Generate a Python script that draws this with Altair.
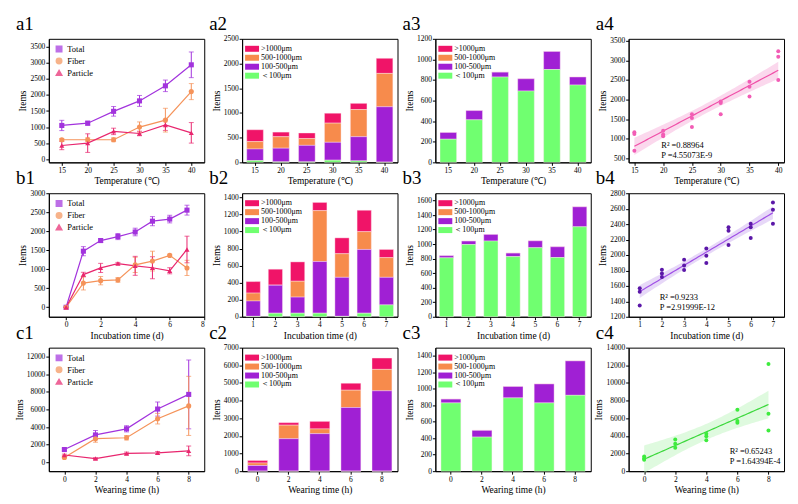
import altair as alt
import numpy as np
import pandas as pd

FONT = "Liberation Serif"

# ---------------- data ----------------
temperature = [15, 20, 25, 30, 35, 40]
incubation_days = [0, 1, 2, 3, 4, 5, 6, 7]
bar_days = [1, 2, 3, 4, 5, 6, 7]
wearing_hours = [0, 2, 4, 6, 8]

series_names = ["Total", "Fiber", "Particle"]
size_names = [">1000μm", "500-1000μm", "100-500μm", "＜100μm"]

# a1 (mean, error)
a1_total = [1050, 1120, 1490, 1815, 2285, 2940]
a1_total_err = [160, 60, 150, 170, 180, 400]
a1_fiber = [605, 605, 605, 1000, 1215, 2105]
a1_fiber_err = [40, 60, 60, 160, 370, 250]
a1_particle = [425, 500, 865, 800, 1065, 820]
a1_particle_err = [130, 290, 100, 70, 170, 320]

# b1
b1_total = [0, 1475, 1755, 1860, 1980, 2265, 2320, 2555]
b1_total_err = [0, 120, 50, 80, 100, 120, 100, 130]
b1_fiber = [0, 635, 700, 720, 1115, 1215, 1365, 1035]
b1_fiber_err = [0, 180, 110, 60, 200, 260, 30, 200]
b1_particle = [0, 860, 1035, 1150, 1090, 1040, 960, 1520]
b1_particle_err = [0, 60, 120, 30, 250, 290, 80, 350]

# c1
c1_total = [1450, 3110, 3800, 6040, 7700]
c1_total_err = [150, 500, 350, 800, 3900]
c1_fiber = [560, 2680, 2790, 4950, 6400]
c1_fiber_err = [150, 400, 250, 600, 3350]
c1_particle = [830, 430, 1010, 1080, 1300]
c1_particle_err = [100, 100, 150, 150, 550]

# a2 fibers by length
a2_lt100 = [35, 10, 10, 44, 30, 5]
a2_100_500 = [235, 277, 334, 362, 489, 1120]
a2_500_1000 = [150, 232, 137, 388, 550, 675]
a2_gt1000 = [240, 93, 113, 200, 125, 306]
# a3 particles by size
a3_lt100 = [225, 413, 829, 693, 902, 751]
a3_100_500 = [65, 90, 47, 119, 175, 78]
a3_500_1000 = [0, 0, 0, 0, 0, 0]
a3_gt1000 = [0, 0, 0, 0, 0, 0]
# b2
b2_lt100 = [5, 42, 42, 42, 5, 42, 139]
b2_100_500 = [180, 328, 189, 606, 458, 748, 324]
b2_500_1000 = [93, 0, 186, 598, 277, 209, 231]
b2_gt1000 = [135, 189, 227, 96, 186, 251, 96]
# b3
b3_lt100 = [811, 994, 1042, 828, 950, 815, 1238]
b3_100_500 = [30, 48, 91, 48, 95, 148, 275]
b3_500_1000 = [0, 0, 0, 0, 0, 0, 0]
b3_gt1000 = [0, 0, 0, 0, 0, 0, 0]
# c2
c2_lt100 = [0, 0, 0, 0, 0]
c2_100_500 = [321, 1839, 2125, 3607, 4554]
c2_500_1000 = [143, 768, 268, 982, 1214]
c2_gt1000 = [143, 143, 428, 393, 643]
# c3
c3_lt100 = [829, 414, 890, 829, 921]
c3_100_500 = [46, 81, 138, 230, 418]
c3_500_1000 = [0, 0, 0, 0, 0]
c3_gt1000 = [0, 0, 0, 0, 0]

# regression scatter data
a4_x = [15, 15, 15, 20, 20, 20, 25, 25, 25, 30, 30, 30, 35, 35, 35, 40, 40, 40]
a4_y = [1165, 1124, 695, 1205, 1108, 1068, 1627, 1530, 1303, 1952, 1911, 1627,
        2455, 2325, 2081, 3233, 3095, 2503]
b4_x = [1, 1, 1, 2, 2, 2, 3, 3, 3, 4, 4, 4, 5, 5, 5, 6, 6, 6, 7, 7, 7]
b4_y = [1570, 1525, 1345, 1810, 1760, 1715, 1940, 1865, 1805, 2085, 1990, 1895,
        2360, 2315, 2130, 2405, 2360, 2220, 2680, 2585, 2405]
c4_x = [0, 0, 0, 2, 2, 2, 4, 4, 4, 6, 6, 6, 8, 8, 8]
c4_y = [1650, 1450, 1300, 3600, 3100, 2650, 4250, 3950, 3500, 6950, 5700, 5500,
        12150, 6500, 4600]
a4_text = ["R² =0.88964", "P =4.55073E-9"]
b4_text = ["R² =0.9233", "P =2.91999E-12"]
c4_text = ["R² =0.65243", "P =1.64394E-4"]
# two-sided 95% t critical values by degrees of freedom
t_crit = {13: 2.160, 16: 2.120, 19: 2.093}

# ---------------- style ----------------
W, H = 156, 124
SERIES_COLORS = ["#A233DD", "#F5935A", "#E8266E"]
SERIES_SHAPES = ["square", "circle", "triangle-up"]
SIZE_COLORS = ["#F01468", "#F78B4C", "#A020D4", "#70FF70"]
RECT = "M-1.4,-0.6H1.4V0.6H-1.4Z"


def label_layer(txt):
    return alt.Chart(pd.DataFrame({"t": [txt]})).mark_text(
        font=FONT, fontSize=19, align="left", baseline="alphabetic", color="black"
    ).encode(x=alt.value(-33), y=alt.value(-9), text="t:N")


def line_panel(label, xs, vals, errs, xdomain, xticks, ydomain, yticks, xtitle):
    rows = []
    for name, v, e in zip(series_names, vals, errs):
        for xi, vi, ei in zip(xs, v, e):
            rows.append(dict(x=xi, v=vi, lo=vi - ei, hi=vi + ei, s=name))
    df = pd.DataFrame(rows)
    leg = alt.Legend(title=None, orient="top-left", offset=5, labelFontSize=8.5,
                     symbolSize=30, rowPadding=0, padding=1, labelFont=FONT,
                     labelColor="black")
    color = alt.Color("s:N", scale=alt.Scale(domain=series_names, range=SERIES_COLORS), legend=leg)
    shape = alt.Shape("s:N", scale=alt.Scale(domain=series_names, range=SERIES_SHAPES), legend=leg)
    xenc = alt.X("x:Q", scale=alt.Scale(domain=xdomain, nice=False, zero=False),
                 axis=alt.Axis(values=xticks, title=xtitle, format="d"))
    yscale = alt.Scale(domain=ydomain, nice=False, zero=False)
    yaxis = alt.Axis(values=yticks, title="Items", format="d")
    base = alt.Chart(df)
    lines = base.mark_line(strokeWidth=1.2).encode(
        x=xenc, y=alt.Y("v:Q", scale=yscale, axis=yaxis), color=color)
    errb = base.mark_errorbar(ticks=True, thickness=1).encode(
        x=xenc, y=alt.Y("lo:Q", scale=yscale, axis=yaxis), y2="hi:Q", color=color)
    pts = base.mark_point(filled=True, size=26, opacity=1).encode(
        x=xenc, y=alt.Y("v:Q", scale=yscale, axis=yaxis), color=color, shape=shape)
    return alt.layer(lines, errb, pts, label_layer(label)).properties(width=W, height=H)


def bar_panel(label, cats, parts, ydomain, yticks, xtitle):
    # parts in order: gt1000, 500-1000, 100-500, lt100
    order_map = {">1000μm": 3, "500-1000μm": 2, "100-500μm": 1, "＜100μm": 0}
    rows = []
    for name, vals in zip(size_names, parts):
        for c, v in zip(cats, vals):
            rows.append(dict(c=c, v=v, size=name, ord=order_map[name]))
    df = pd.DataFrame(rows)
    leg = alt.Legend(title=None, orient="top-left", offset=4, labelFontSize=8,
                     symbolType=RECT, symbolSize=100, symbolStrokeWidth=0,
                     rowPadding=0, padding=1, labelFont=FONT, labelColor="black")
    bars = alt.Chart(df).mark_bar(stroke="#ffe8f0", strokeWidth=0.4).encode(
        x=alt.X("c:O", scale=alt.Scale(paddingInner=0.36, paddingOuter=0.18),
                axis=alt.Axis(labelAngle=0, title=xtitle)),
        y=alt.Y("v:Q", stack="zero", scale=alt.Scale(domain=ydomain, nice=False),
                axis=alt.Axis(values=yticks, title="Items", format="d")),
        color=alt.Color("size:N", scale=alt.Scale(domain=size_names, range=SIZE_COLORS), legend=leg),
        order=alt.Order("ord:Q", sort="ascending"),
    )
    return alt.layer(bars, label_layer(label)).properties(width=W, height=H)


def reg_panel(label, xs, ys, xdomain, xticks, ydomain, yticks, xtitle, colors, texts, tpos):
    X = np.array(xs, float)
    Y = np.array(ys, float)
    n = len(X)
    xb = X.mean()
    sxx = ((X - xb) ** 2).sum()
    b = ((X - xb) * (Y - Y.mean())).sum() / sxx
    a = Y.mean() - b * xb
    s = np.sqrt(((Y - (a + b * X)) ** 2).sum() / (n - 2))
    grid = np.linspace(X.min(), X.max(), 60)
    fit = a + b * grid
    half = t_crit[n - 2] * s * np.sqrt(1.0 / n + (grid - xb) ** 2 / sxx)
    fdf = pd.DataFrame({"x": grid, "f": fit, "lo": fit - half, "hi": fit + half})
    pdf = pd.DataFrame({"x": xs, "y": ys})
    pt_c, line_c, band_c = colors
    xscale = alt.Scale(domain=xdomain, nice=False, zero=False)
    xaxis = alt.Axis(values=xticks, title=xtitle, format="d")
    yscale = alt.Scale(domain=ydomain, nice=False, zero=False)
    yaxis = alt.Axis(values=yticks, title="Items", format="d")
    band = alt.Chart(fdf).mark_area(color=band_c, opacity=0.45).encode(
        x=alt.X("x:Q", scale=xscale, axis=xaxis),
        y=alt.Y("lo:Q", scale=yscale, axis=yaxis), y2="hi:Q")
    line = alt.Chart(fdf).mark_line(color=line_c, strokeWidth=1.2).encode(
        x=alt.X("x:Q", scale=xscale, axis=xaxis),
        y=alt.Y("f:Q", scale=yscale, axis=yaxis))
    pts = alt.Chart(pdf).mark_circle(color=pt_c, size=16, opacity=1).encode(
        x=alt.X("x:Q", scale=xscale, axis=xaxis),
        y=alt.Y("y:Q", scale=yscale, axis=yaxis))
    tx, ty1, ty2 = tpos
    t1 = alt.Chart(pd.DataFrame({"t": [texts[0]]})).mark_text(
        font=FONT, fontSize=8.5, align="left", color="black").encode(
        x=alt.value(tx * W), y=alt.value(ty1 * H), text="t:N")
    t2 = alt.Chart(pd.DataFrame({"t": [texts[1]]})).mark_text(
        font=FONT, fontSize=8.5, align="left", color="black").encode(
        x=alt.value(tx * W), y=alt.value(ty2 * H), text="t:N")
    return alt.layer(band, line, pts, t1, t2, label_layer(label)).properties(width=W, height=H)


T_TITLE = "Temperature (℃)"
D_TITLE = "Incubation time (d)"
H_TITLE = "Wearing time (h)"

a1 = line_panel("a1", temperature, [a1_total, a1_fiber, a1_particle],
                [a1_total_err, a1_fiber_err, a1_particle_err],
                [12.5, 42.5], temperature, [-100, 3750], list(range(0, 3501, 500)), T_TITLE)
a2 = bar_panel("a2", temperature, [a2_gt1000, a2_500_1000, a2_100_500, a2_lt100],
               [0, 2500], list(range(0, 2501, 500)), T_TITLE)
a3 = bar_panel("a3", temperature, [a3_gt1000, a3_500_1000, a3_100_500, a3_lt100],
               [0, 1200], list(range(0, 1201, 200)), T_TITLE)
a4 = reg_panel("a4", a4_x, a4_y, [14, 41], temperature, [400, 3550], list(range(500, 3501, 500)),
               T_TITLE, ("#F25CB5", "#F050A8", "#F7A8D8"), a4_text, (0.21, 0.86, 0.94))

b1 = line_panel("b1", incubation_days, [b1_total, b1_fiber, b1_particle],
                [b1_total_err, b1_fiber_err, b1_particle_err],
                [-1, 8], [0, 2, 4, 6, 8], [-250, 3000], list(range(0, 3001, 500)), D_TITLE)
b2 = bar_panel("b2", bar_days, [b2_gt1000, b2_500_1000, b2_100_500, b2_lt100],
               [0, 1450], list(range(0, 1401, 200)), D_TITLE)
b3 = bar_panel("b3", bar_days, [b3_gt1000, b3_500_1000, b3_100_500, b3_lt100],
               [0, 1700], list(range(0, 1601, 200)), D_TITLE)
b4 = reg_panel("b4", b4_x, b4_y, [0.5, 7.5], bar_days, [1200, 2800], list(range(1200, 2801, 200)),
               D_TITLE, ("#5B17A8", "#A050E6", "#C9A8F0"), b4_text, (0.20, 0.84, 0.92))

c1 = line_panel("c1", wearing_hours, [c1_total, c1_fiber, c1_particle],
                [c1_total_err, c1_fiber_err, c1_particle_err],
                [-1, 9], wearing_hours, [-1000, 13000], list(range(0, 12001, 2000)), H_TITLE)
c2 = bar_panel("c2", wearing_hours, [c2_gt1000, c2_500_1000, c2_100_500, c2_lt100],
               [0, 7000], list(range(0, 7001, 1000)), H_TITLE)
c3 = bar_panel("c3", wearing_hours, [c3_gt1000, c3_500_1000, c3_100_500, c3_lt100],
               [0, 1500], list(range(0, 1401, 200)), H_TITLE)
c4 = reg_panel("c4", c4_x, c4_y, [-1, 9], wearing_hours, [0, 14000], list(range(0, 14001, 2000)),
               H_TITLE, ("#3DEB3D", "#3CD83C", "#B8F5B8"), c4_text, (0.65, 0.84, 0.92))

chart = alt.concat(
    a1, a2, a3, a4, b1, b2, b3, b4, c1, c2, c3, c4,
    columns=4, bounds="flush", spacing={"row": 31, "column": 38},
).resolve_scale(
    color="independent", shape="independent"
).resolve_legend(
    color="independent", shape="independent"
).configure_view(
    stroke="black", strokeWidth=1
).configure_axis(
    labelFont=FONT, titleFont=FONT, labelFontSize=7.5, titleFontSize=9.5,
    titleFontWeight="normal", labelColor="black", titleColor="black",
    domainColor="black", tickColor="black", tickSize=3, grid=False,
    labelPadding=1, titlePadding=2,
)

chart.save("out.html", embed_options={"renderer": "svg", "actions": False})
